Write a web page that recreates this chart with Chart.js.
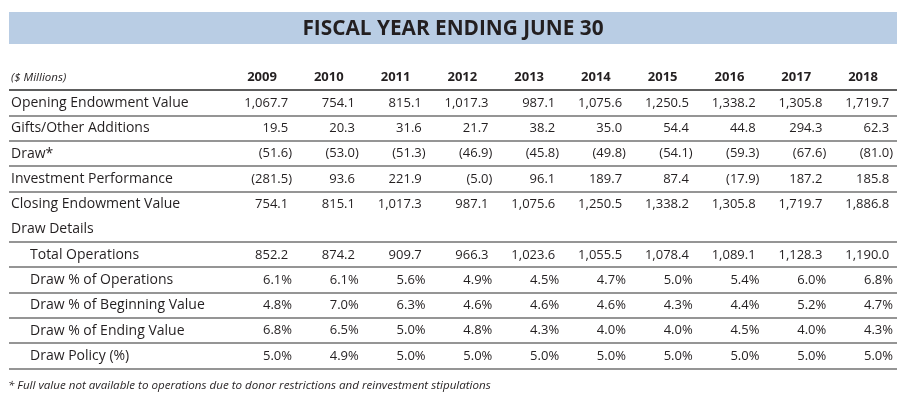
<!DOCTYPE html>
<html>
<head>
<meta charset="utf-8">
<script src="https://cdn.jsdelivr.net/npm/chart.js@4.4.1/dist/chart.umd.min.js"></script>
<style>
html,body{margin:0;padding:0;background:#fff;}
#wrap{width:900px;height:410px;position:relative;}
</style>
</head>
<body>
<div id="wrap"><canvas id="c" width="900" height="410"></canvas></div>
<script>
// ---- data ----
const title = 'FISCAL YEAR ENDING JUNE 30';
const unitLabel = '($ Millions)';
const footnote = '* Full value not available to operations due to donor restrictions and reinvestment stipulations';
const years = ['2009','2010','2011','2012','2013','2014','2015','2016','2017','2018'];
const rowLabels = [
  'Opening Endowment Value',
  'Gifts/Other Additions',
  'Draw*',
  'Investment Performance',
  'Closing Endowment Value',
  'Draw Details',
  'Total Operations',
  'Draw % of Operations',
  'Draw % of Beginning Value',
  'Draw % of Ending Value',
  'Draw Policy (%)'
];
const subRow = [false,false,false,false,false,false,true,true,true,true,true];
const rowFormat = ['num','num','num','num','num','none','num','pct','pct','pct','pct'];

const openingValue   = [1067.7, 754.1, 815.1, 1017.3, 987.1, 1075.6, 1250.5, 1338.2, 1305.8, 1719.7];
const giftsAdditions = [19.5, 20.3, 31.6, 21.7, 38.2, 35.0, 54.4, 44.8, 294.3, 62.3];
const draw           = [-51.6, -53.0, -51.3, -46.9, -45.8, -49.8, -54.1, -59.3, -67.6, -81.0];
const investmentPerf = [-281.5, 93.6, 221.9, -5.0, 96.1, 189.7, 87.4, -17.9, 187.2, 185.8];
const closingValue   = [754.1, 815.1, 1017.3, 987.1, 1075.6, 1250.5, 1338.2, 1305.8, 1719.7, 1886.8];
const drawDetails    = [];
const totalOps       = [852.2, 874.2, 909.7, 966.3, 1023.6, 1055.5, 1078.4, 1089.1, 1128.3, 1190.0];
const drawPctOps     = [6.1, 6.1, 5.6, 4.9, 4.5, 4.7, 5.0, 5.4, 6.0, 6.8];
const drawPctBegin   = [4.8, 7.0, 6.3, 4.6, 4.6, 4.6, 4.3, 4.4, 5.2, 4.7];
const drawPctEnd     = [6.8, 6.5, 5.0, 4.8, 4.3, 4.0, 4.0, 4.5, 4.0, 4.3];
const drawPolicy     = [5.0, 4.9, 5.0, 5.0, 5.0, 5.0, 5.0, 5.0, 5.0, 5.0];

const rowValues = [openingValue, giftsAdditions, draw, investmentPerf, closingValue, drawDetails,
                   totalOps, drawPctOps, drawPctBegin, drawPctEnd, drawPolicy];

// ---- style ----
const FONT = '"Open Sans", "Noto Sans", sans-serif';
const TEXT = '#231f20';

function fmtNum(v){
  return Math.abs(v).toLocaleString('en-US',{minimumFractionDigits:1, maximumFractionDigits:1});
}

const datasets = rowLabels.map((lab, r) => ({
  label: lab,
  data: rowValues[r].map((v, i) => ({x: i, y: r})),
  pointRadius: 0,
  pointHoverRadius: 0,
  showLine: false
}));

const tablePlugin = {
  id: 'tableText',
  beforeDraw(chart){
    const {ctx, chartArea} = chart;
    ctx.save();
    ctx.fillStyle = '#b9cde4';
    ctx.fillRect(chartArea.left, 12, chartArea.right - chartArea.left, 32);
    ctx.fillStyle = TEXT;
    ctx.font = 'bold 20.8px ' + FONT;
    ctx.textAlign = 'center';
    ctx.textBaseline = 'middle';
    ctx.fillText(title, (chartArea.left + chartArea.right) / 2, 29);
    ctx.restore();
  },
  afterDatasetsDraw(chart){
    const {ctx, chartArea, scales} = chart;
    const xs = scales.x, ys = scales.y;
    ctx.save();
    ctx.fillStyle = TEXT;
    ctx.textBaseline = 'middle';
    // header row
    const yh = ys.getPixelForValue(-1);
    ctx.font = 'italic 11.5px ' + FONT;
    ctx.textAlign = 'left';
    ctx.fillText(unitLabel, chartArea.left + 2, yh);
    ctx.font = 'bold 13px ' + FONT;
    ctx.textAlign = 'center';
    years.forEach((y, i) => ctx.fillText(y, xs.getPixelForValue(i), yh));
    // row labels
    ctx.font = '14px ' + FONT;
    ctx.textAlign = 'left';
    rowLabels.forEach((lab, r) => {
      ctx.fillText(lab, chartArea.left + (subRow[r] ? 21 : 2), ys.getPixelForValue(r));
    });
    // cell values from dataset elements
    ctx.font = '13px ' + FONT;
    const parenW = ctx.measureText(')').width;
    chart.data.datasets.forEach((ds, r) => {
      const meta = chart.getDatasetMeta(r);
      meta.data.forEach((el, i) => {
        const v = rowValues[r][i];
        const edge = el.x + 30;
        ctx.textAlign = 'right';
        if (rowFormat[r] === 'pct') {
          ctx.fillText(v.toFixed(1) + '%', edge, el.y);
        } else if (v < 0) {
          ctx.fillText('(' + fmtNum(v) + ')', edge, el.y);
        } else {
          ctx.fillText(fmtNum(v), edge - parenW, el.y);
        }
      });
    });
    // footnote
    ctx.font = 'italic 11.6px ' + FONT;
    ctx.textAlign = 'left';
    ctx.fillText(footnote, 8, 386);
    ctx.restore();
  }
};

new Chart(document.getElementById('c'), {
  type: 'scatter',
  data: { datasets },
  plugins: [tablePlugin],
  options: {
    responsive: false,
    animation: false,
    events: [],
    layout: { padding: { left: 9, right: 3, top: 90.35, bottom: 41.35 } },
    plugins: { legend: { display: false }, tooltip: { enabled: false }, title: { display: false } },
    scales: {
      x: {
        type: 'linear', display: false,
        min: -3.789, max: 9.509
      },
      y: {
        type: 'linear', reverse: true,
        min: -0.5, max: 10.5,
        afterBuildTicks(axis){
          const t = [];
          for (let k = 0; k <= rowLabels.length; k++) t.push({ value: k - 0.5 });
          axis.ticks = t;
        },
        ticks: { display: false },
        border: { display: false },
        grid: {
          drawTicks: false,
          lineWidth: 2,
          color(ctx){
            const v = ctx.tick ? ctx.tick.value : null;
            if (v === -0.5) return '#5e5e5e';
            if (v === 4.5) return 'rgba(0,0,0,0)';
            return '#959595';
          }
        }
      }
    }
  }
});
</script>
</body>
</html>
